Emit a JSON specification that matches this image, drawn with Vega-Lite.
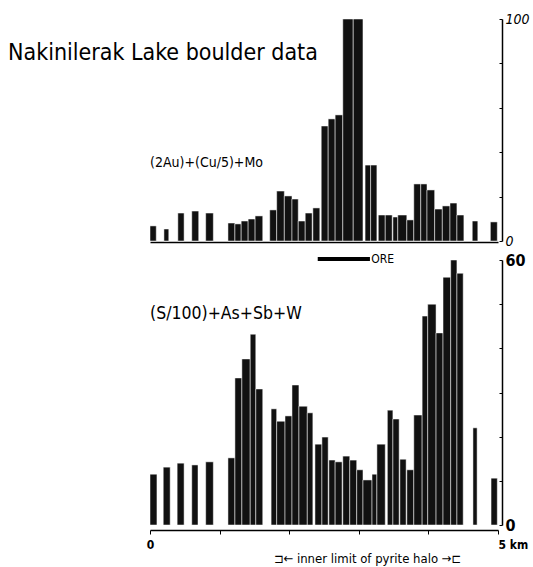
{
  "$schema": "https://vega.github.io/schema/vega-lite/v6.json",
  "background": "white",
  "padding": {"left": 8, "top": 12, "right": 0, "bottom": 0},
  "spacing": 19,
  "bounds": "flush",
  "config": {
    "view": {"stroke": null},
    "font": "'DejaVu Sans Condensed', 'Liberation Sans', sans-serif",
    "axis": {"grid": false, "domainColor": "black", "tickColor": "black", "labelColor": "black", "title": null, "labelFlush": false}
  },
  "datasets": {
    "top": [
      {"x0": 0.00, "x1": 0.09, "value": 6.8},
      {"x0": 0.20, "x1": 0.27, "value": 5.4},
      {"x0": 0.40, "x1": 0.49, "value": 12.6},
      {"x0": 0.60, "x1": 0.70, "value": 13.5},
      {"x0": 0.80, "x1": 0.91, "value": 12.6},
      {"x0": 1.12, "x1": 1.22, "value": 8.1},
      {"x0": 1.22, "x1": 1.31, "value": 7.7},
      {"x0": 1.31, "x1": 1.41, "value": 9.0},
      {"x0": 1.41, "x1": 1.51, "value": 9.9},
      {"x0": 1.51, "x1": 1.62, "value": 11.3},
      {"x0": 1.72, "x1": 1.82, "value": 14.0},
      {"x0": 1.82, "x1": 1.93, "value": 22.5},
      {"x0": 1.93, "x1": 2.04, "value": 20.3},
      {"x0": 2.04, "x1": 2.13, "value": 18.9},
      {"x0": 2.13, "x1": 2.23, "value": 9.0},
      {"x0": 2.23, "x1": 2.33, "value": 12.6},
      {"x0": 2.34, "x1": 2.44, "value": 14.9},
      {"x0": 2.46, "x1": 2.56, "value": 51.8},
      {"x0": 2.56, "x1": 2.66, "value": 55.0},
      {"x0": 2.66, "x1": 2.77, "value": 56.8},
      {"x0": 2.77, "x1": 2.92, "value": 100},
      {"x0": 2.92, "x1": 3.06, "value": 100},
      {"x0": 3.09, "x1": 3.17, "value": 34.2},
      {"x0": 3.17, "x1": 3.26, "value": 34.2},
      {"x0": 3.28, "x1": 3.38, "value": 11.7},
      {"x0": 3.38, "x1": 3.48, "value": 11.7},
      {"x0": 3.49, "x1": 3.56, "value": 10.8},
      {"x0": 3.56, "x1": 3.69, "value": 11.7},
      {"x0": 3.69, "x1": 3.79, "value": 9.5},
      {"x0": 3.79, "x1": 3.89, "value": 25.7},
      {"x0": 3.89, "x1": 3.98, "value": 25.7},
      {"x0": 3.98, "x1": 4.09, "value": 23.0},
      {"x0": 4.09, "x1": 4.20, "value": 14.4},
      {"x0": 4.20, "x1": 4.31, "value": 15.8},
      {"x0": 4.31, "x1": 4.41, "value": 17.1},
      {"x0": 4.41, "x1": 4.51, "value": 11.7},
      {"x0": 4.63, "x1": 4.71, "value": 9.0},
      {"x0": 4.89, "x1": 4.99, "value": 8.6}
    ],
    "bottom": [
      {"x0": 0.00, "x1": 0.10, "value": 11.5},
      {"x0": 0.19, "x1": 0.29, "value": 13.1},
      {"x0": 0.39, "x1": 0.49, "value": 14.0},
      {"x0": 0.60, "x1": 0.69, "value": 13.6},
      {"x0": 0.80, "x1": 0.91, "value": 14.3},
      {"x0": 1.12, "x1": 1.22, "value": 15.2},
      {"x0": 1.22, "x1": 1.32, "value": 33.3},
      {"x0": 1.32, "x1": 1.44, "value": 37.6},
      {"x0": 1.44, "x1": 1.52, "value": 43.2},
      {"x0": 1.52, "x1": 1.62, "value": 30.8},
      {"x0": 1.74, "x1": 1.82, "value": 26.3},
      {"x0": 1.82, "x1": 1.94, "value": 23.5},
      {"x0": 1.94, "x1": 2.04, "value": 24.7},
      {"x0": 2.04, "x1": 2.14, "value": 31.7},
      {"x0": 2.14, "x1": 2.26, "value": 26.9},
      {"x0": 2.26, "x1": 2.34, "value": 25.4},
      {"x0": 2.37, "x1": 2.47, "value": 18.3},
      {"x0": 2.47, "x1": 2.56, "value": 19.9},
      {"x0": 2.57, "x1": 2.66, "value": 14.7},
      {"x0": 2.66, "x1": 2.76, "value": 14.3},
      {"x0": 2.77, "x1": 2.87, "value": 15.6},
      {"x0": 2.87, "x1": 2.97, "value": 14.7},
      {"x0": 2.97, "x1": 3.06, "value": 12.5},
      {"x0": 3.06, "x1": 3.19, "value": 10.2},
      {"x0": 3.19, "x1": 3.26, "value": 11.5},
      {"x0": 3.26, "x1": 3.38, "value": 18.3},
      {"x0": 3.41, "x1": 3.49, "value": 26.0},
      {"x0": 3.49, "x1": 3.58, "value": 24.0},
      {"x0": 3.59, "x1": 3.68, "value": 14.9},
      {"x0": 3.69, "x1": 3.79, "value": 12.5},
      {"x0": 3.79, "x1": 3.91, "value": 24.9},
      {"x0": 3.91, "x1": 3.99, "value": 47.3},
      {"x0": 3.99, "x1": 4.11, "value": 50.0},
      {"x0": 4.11, "x1": 4.21, "value": 43.5},
      {"x0": 4.21, "x1": 4.32, "value": 56.1},
      {"x0": 4.32, "x1": 4.41, "value": 60.0},
      {"x0": 4.41, "x1": 4.50, "value": 57.0},
      {"x0": 4.64, "x1": 4.70, "value": 22.0},
      {"x0": 4.90, "x1": 4.99, "value": 10.6}
    ]
  },
  "vconcat": [
    {
      "width": 348,
      "height": 222,
      "layer": [
        {
          "data": {"name": "top"},
          "mark": {"type": "bar", "fill": "#111111", "stroke": "white", "strokeWidth": 0.5},
          "encoding": {
            "x": {"field": "x0", "type": "quantitative", "scale": {"domain": [0, 5], "nice": false, "zero": false},
                  "axis": {"orient": "bottom", "offset": 1, "domain": true, "domainWidth": 1.5, "ticks": false, "labels": false}},
            "x2": {"field": "x1"},
            "y": {"field": "value", "type": "quantitative", "scale": {"domain": [0, 100], "nice": false},
                  "axis": {"orient": "right", "offset": 4, "values": [0, 10, 20, 30, 40, 50, 60, 70, 80, 90, 100],
                           "domainWidth": 1.5, "tickSize": -3, "labelPadding": 6, "labelBaseline": "middle",
                           "labelExpr": "datum.value == 0 || datum.value == 100 ? datum.label : ''",
                           "labelFontStyle": "italic", "labelFontSize": 14}},
            "y2": {"datum": 0}
          }
        },
        {
          "data": {"values": [{}]},
          "mark": {"type": "text", "text": "Nakinilerak Lake boulder data", "align": "left", "baseline": "alphabetic",
                   "fontSize": 23, "color": "black"},
          "encoding": {"x": {"datum": -2.04}, "y": {"datum": 81.5}}
        },
        {
          "data": {"values": [{}]},
          "mark": {"type": "text", "text": "(2Au)+(Cu/5)+Mo", "align": "left", "baseline": "middle",
                   "fontSize": 14, "color": "black"},
          "encoding": {"x": {"datum": 0}, "y": {"datum": 35}}
        },
        {
          "data": {"values": [{}]},
          "mark": {"type": "rule", "stroke": "black", "strokeWidth": 4},
          "encoding": {"x": {"datum": 2.41}, "x2": {"datum": 3.16}, "y": {"datum": -8.1}}
        },
        {
          "data": {"values": [{}]},
          "mark": {"type": "text", "text": "ORE", "align": "left", "baseline": "middle",
                   "fontSize": 12, "color": "black"},
          "encoding": {"x": {"datum": 3.18}, "y": {"datum": -8.1}}
        }
      ]
    },
    {
      "width": 348,
      "height": 265,
      "layer": [
        {
          "data": {"name": "bottom"},
          "mark": {"type": "bar", "fill": "#111111", "stroke": "white", "strokeWidth": 0.5},
          "encoding": {
            "x": {"field": "x0", "type": "quantitative", "scale": {"domain": [0, 5], "nice": false, "zero": false},
                  "axis": {"orient": "bottom", "offset": 5, "domainWidth": 1.5, "tickSize": 4,
                           "values": [0, 0.25, 0.5, 0.75, 1, 1.25, 1.5, 1.75, 2, 2.25, 2.5, 2.75, 3, 3.25, 3.5, 3.75, 4, 4.25, 4.5, 4.75, 5],
                           "labelExpr": "datum.value == 0 ? '0' : datum.value == 5 ? '5 km' : ''",
                           "labelAlign": {"expr": "datum.value == 5 ? 'left' : 'center'"},
                           "labelFontWeight": "bold", "labelFontSize": 12, "labelPadding": 5}},
            "x2": {"field": "x1"},
            "y": {"field": "value", "type": "quantitative", "scale": {"domain": [0, 60], "nice": false},
                  "axis": {"orient": "right", "offset": 4, "values": [0, 5, 10, 15, 20, 25, 30, 35, 40, 45, 50, 55, 60],
                           "domainWidth": 1.5, "tickSize": -3, "labelPadding": 6, "labelBaseline": "middle",
                           "labelExpr": "datum.value == 0 || datum.value == 60 ? datum.label : ''",
                           "labelFontWeight": "bold", "labelFontSize": 16}},
            "y2": {"datum": 0}
          }
        },
        {
          "data": {"values": [{}]},
          "mark": {"type": "text", "text": "(S/100)+As+Sb+W", "align": "left", "baseline": "middle",
                   "fontSize": 17.5, "color": "black"},
          "encoding": {"x": {"datum": 0}, "y": {"datum": 47.8}}
        },
        {
          "data": {"values": [{}]},
          "mark": {"type": "text", "text": "⊐← inner limit of pyrite halo →⊏", "align": "center", "baseline": "middle",
                   "fontSize": 13, "color": "black"},
          "encoding": {"x": {"datum": 3.125}, "y": {"datum": -7.7}}
        }
      ]
    }
  ]
}
